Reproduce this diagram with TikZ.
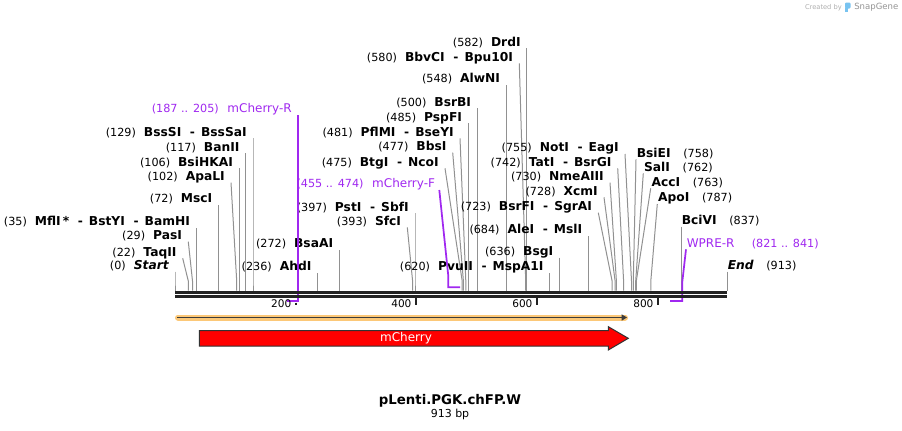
\documentclass[tikz,border=0pt]{standalone}
\usepackage{fontspec}
\setmainfont{DejaVu Sans}
\usetikzlibrary{arrows.meta}

\definecolor{cutgray}{RGB}{145,145,145}
\definecolor{primerpurple}{RGB}{160,40,240}
\definecolor{backbonecol}{RGB}{34,34,34}
\definecolor{orfband}{RGB}{252,200,120}
\definecolor{orfdark}{RGB}{60,60,60}
\definecolor{featred}{RGB}{255,0,0}
\definecolor{featborder}{RGB}{50,50,50}
\definecolor{creditgray}{RGB}{175,175,175}
\definecolor{creditblue}{RGB}{120,195,240}

\tikzset{
  cutline/.style={draw=cutgray, line width=0.75pt},
  primerline/.style={draw=primerpurple, line width=1.3pt},
  lbl/.style={inner xsep=4.5pt, inner ysep=0.3pt, text depth=1.2pt},
  rlbl/.style={inner xsep=0.4pt, inner ysep=0.3pt, text depth=1.2pt},
  ticklbl/.style={font=\fontsize{7.9}{9}\selectfont, inner sep=0pt},
  tickmark/.style={draw=backbonecol, line width=1.1pt},
}

\newcommand{\sitenum}[1]{{\fontsize{8.4}{10}\selectfont(#1)}}
\newcommand{\enzname}[1]{{\fontsize{9.2}{10}\selectfont\bfseries #1}}
\newcommand{\dsh}{\hspace{6.5pt}-\hspace{4.5pt}}
% left label: name, cut x, top x, top y, number, enzyme
\newcommand{\lsite}[6]{%
  \node[lbl, anchor=south east] (#1) at (#3,#4) {\sitenum{#5}\hspace{6pt}\enzname{#6}};
  \coordinate (#1-cut) at (#2,290.5);
  \draw[cutline] (#1.south east) -- (#2,281) -- (#1-cut);
}
% right label
\newcommand{\rsite}[6]{%
  \node[rlbl, anchor=south west] (#1) at (#3,#4) {\enzname{#6}\hspace{9.5pt}\sitenum{#5}};
  \coordinate (#1-cut) at (#2,290.5);
  \draw[cutline] (#1.south west) -- (#2,281) -- (#1-cut);
}

\begin{document}
\begin{tikzpicture}[x=0.75pt,y=-0.75pt]
  \fill[white] (0,0) rectangle (902,430);
  \useasboundingbox (0,0) rectangle (902,430);

  %%% enzyme sites
  \lsite{startsite}{175}{175}{271.7}{0}{\itshape Start}
  \lsite{taqii}{188.3}{182.7}{258.3}{22}{TaqII}
  \lsite{pasi}{192.5}{188.3}{241.7}{29}{PasI}
  \lsite{mfli}{196.2}{196.2}{228}{35}{MflI\,*\dsh BstYI\dsh BamHI}
  \lsite{msci}{218.5}{218.5}{205}{72}{MscI}
  \lsite{apali}{236.7}{231}{182.7}{102}{ApaLI}
  \lsite{bsihkai}{239.1}{239.1}{168.3}{106}{BsiHKAI}
  \lsite{banii}{245.7}{245.7}{153.3}{117}{BanII}
  \lsite{bsssi}{253}{253}{138.3}{129}{BssSI\dsh BssSaI}
  \lsite{ahdi}{317.7}{317.7}{273}{236}{AhdI}
  \lsite{bsaai}{339.4}{339.4}{250}{272}{BsaAI}
  \lsite{sfci}{412.6}{407.3}{227.3}{393}{SfcI}
  \lsite{psti}{415}{415}{213.3}{397}{PstI\dsh SbfI}
  \lsite{btgi}{462.2}{445}{168.3}{475}{BtgI\dsh NcoI}
  \lsite{bbsi}{463.4}{452.7}{152.7}{477}{BbsI}
  \lsite{pflmi}{465.8}{460}{138.3}{481}{PflMI\dsh BseYI}
  \lsite{pspfi}{468.2}{468.2}{123.3}{485}{PspFI}
  \lsite{bsrbi}{477.3}{477.3}{108.3}{500}{BsrBI}
  \lsite{alwni}{506.3}{506.3}{85}{548}{AlwNI}
  \lsite{bbvci}{525.7}{519.3}{63.3}{580}{BbvCI\dsh Bpu10I}
  \lsite{drdi}{526.9}{526.9}{48.3}{582}{DrdI}
  \lsite{pvuii}{549.8}{549.8}{273}{620}{PvuII\dsh MspA1I}
  \lsite{bsgi}{559.5}{559.5}{257.5}{636}{BsgI}
  \lsite{alei}{588.5}{588.5}{236}{684}{AleI\dsh MslI}
  \lsite{bsrfi}{612.1}{598.3}{212.7}{723}{BsrFI\dsh SgrAI}
  \lsite{xcmi}{615.1}{604}{197.3}{728}{XcmI}
  \lsite{nmeaiii}{616.4}{610}{182.7}{730}{NmeAIII}
  \lsite{tati}{623.6}{617.7}{168.3}{742}{TatI\dsh BsrGI}
  \lsite{noti}{631.5}{625}{154}{755}{NotI\dsh EagI}
  \rsite{bsiei}{633.3}{636}{159.3}{758}{BsiEI}
  \rsite{sali}{635.7}{643.3}{173.3}{762}{SalI}
  \rsite{acci}{636.3}{650.7}{188.3}{763}{AccI}
  \rsite{apoi}{650.8}{657.3}{204}{787}{ApoI}
  \rsite{bcivi}{681}{681}{226.7}{837}{BciVI}
  \rsite{endsite}{727}{727}{271.7}{913}{\itshape End}

  %%% primers
  \node[lbl, anchor=south east, text=primerpurple] (mchr) at (298,115)
    {\sitenum{187 .. 205}\hspace{6.5pt}{\fontsize{9}{10}\selectfont mCherry-R}};
  \coordinate (mchr-a) at (298,301);
  \coordinate (mchr-b) at (287,301);
  \draw[primerline] (mchr.south east) -- (mchr-a) -- (mchr-b);

  \node[lbl, anchor=south east, inner xsep=3pt, text=primerpurple] (mchf) at (439.3,190)
    {\sitenum{455 .. 474}\hspace{6.5pt}{\fontsize{9}{10}\selectfont mCherry-F}};
  \coordinate (mchf-k) at (448.3,276);
  \coordinate (mchf-a) at (448.3,287.3);
  \coordinate (mchf-b) at (460,287.3);
  \draw[primerline] (mchf.south east) -- (mchf-k) -- (mchf-a) -- (mchf-b);

  \node[rlbl, anchor=south west, text=primerpurple] (wprer) at (686,249.3)
    {{\fontsize{9}{10}\selectfont WPRE-R}\hspace{13pt}\sitenum{821 .. 841}};
  \coordinate (wprer-k) at (682.3,281.7);
  \coordinate (wprer-a) at (682.3,301);
  \coordinate (wprer-b) at (670,301);
  \draw[primerline] (wprer.south west) -- (wprer-k) -- (wprer-a) -- (wprer-b);

  %%% backbone
  \draw[backbonecol, line width=2.4pt] (175,292.5) -- (727,292.5);
  \draw[backbonecol, line width=1.95pt] (175,296.5) -- (727,296.5);

  \draw[tickmark] (296,302.5) -- (296,304.5);
  \draw[tickmark] (416,297.5) -- (416,304.5);
  \draw[tickmark] (537,297.5) -- (537,304.5);
  \draw[tickmark] (658,297.5) -- (658,304.5);
  \node[ticklbl, anchor=east] (t200) at (291.6,303.8) {200};
  \node[ticklbl, anchor=east] (t400) at (411.7,303.8) {400};
  \node[ticklbl, anchor=east] (t600) at (532.7,303.8) {600};
  \node[ticklbl, anchor=east] (t800) at (653.7,303.8) {800};

  %%% ORF
  \draw[orfband, line width=4.5pt, line cap=round] (178,317.5) -- (625,317.5);
  \draw[orfdark, line width=1.1pt, -{Triangle[length=4pt,width=4.5pt]}] (177,317.5) -- (627,317.5);

  %%% mCherry feature
  \filldraw[fill=featred, draw=featborder, line width=0.75pt]
    (199.3,330.7) -- (608.3,330.7) -- (608.3,326.7) -- (628.3,338.3)
    -- (608.3,350) -- (608.3,346) -- (199.3,346) -- cycle;
  \node[text=white, font=\fontsize{9}{10}\selectfont] (mcherry) at (406,337.8) {mCherry};

  %%% title
  \node[anchor=base, font=\fontsize{10}{12}\selectfont\bfseries] (title) at (450,404) {pLenti.PGK.chFP.W};
  \node[anchor=base, font=\fontsize{8.25}{10}\selectfont] (length) at (450,417) {913 bp};

  %%% credit
  \node[anchor=east, inner sep=0pt, text=creditgray, font=\fontsize{5}{6}\selectfont] (createdby) at (842,7.5) {Created by};
  \fill[creditblue, rounded corners=0.8pt] (845,2.5) rectangle (850.5,8.5);
  \fill[creditblue] (845,8) rectangle (847.5,12);
  \node[anchor=west, inner sep=0pt, text=creditgray!85!black, font=\fontsize{6.4}{7}\selectfont] (snapgene) at (854,7.5) {SnapGene};
\end{tikzpicture}
\end{document}
